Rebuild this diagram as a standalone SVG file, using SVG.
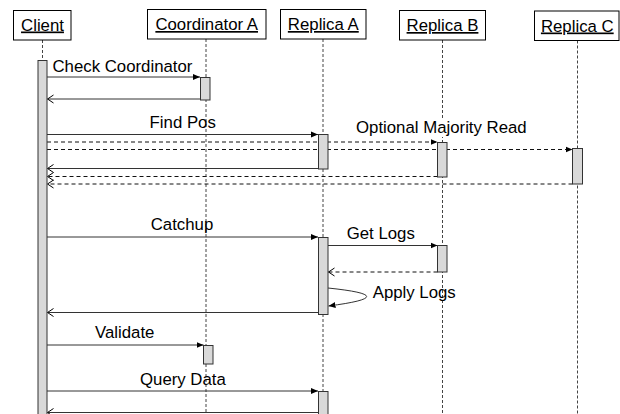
<svg xmlns="http://www.w3.org/2000/svg" width="620" height="414" viewBox="0 0 620 414">
<style>
text{font-family:"Liberation Sans",Arial,sans-serif;font-size:16.8px;fill:#000}
.hd{fill:#fff;stroke:#000;stroke-width:1}
.ht{text-anchor:middle;text-decoration:underline}
.life{stroke:#444;stroke-width:1;stroke-dasharray:3,2;fill:none}
.bar{fill:#d9d9d9;stroke:#333;stroke-width:1}
.msg{stroke:#333;stroke-width:1;fill:none}
.dash{stroke:#111;stroke-width:1;stroke-dasharray:4,3;fill:none}
.sync{marker-end:url(#fillArrow)}
.ret{marker-end:url(#openArrow)}
</style>
<defs>
<marker id="fillArrow" markerUnits="userSpaceOnUse" markerWidth="8" markerHeight="8" refX="7" refY="4" orient="auto">
<path d="M0,1 L7,4 L0,7 z" fill="#000"/>
</marker>
<marker id="openArrow" markerUnits="userSpaceOnUse" markerWidth="8" markerHeight="10" refX="6" refY="5" orient="auto">
<path d="M0,1 L6,5 L0,9" fill="none" stroke="#000" stroke-width="1"/>
</marker>
</defs>
<rect width="620" height="414" fill="#fff"/>
<g id="lifelines">
<line class="life" x1="42.5" y1="40" x2="42.5" y2="414"/>
<line class="life" x1="206" y1="39" x2="206" y2="414"/>
<line class="life" x1="323" y1="39" x2="323" y2="414"/>
<line class="life" x1="442.5" y1="40" x2="442.5" y2="414"/>
<line class="life" x1="577.5" y1="40.5" x2="577.5" y2="414"/>
</g>
<g id="connectors">
<line class="msg sync" x1="47" y1="77" x2="200" y2="77"/>
<line class="msg ret" x1="200" y1="99" x2="47.5" y2="99"/>
<line class="msg sync" x1="47" y1="134.5" x2="318" y2="134.5"/>
<line class="dash sync" x1="47" y1="142" x2="437.5" y2="142"/>
<line class="dash sync" x1="47" y1="149.5" x2="572.5" y2="149.5"/>
<line class="msg ret" x1="318" y1="168.5" x2="47.5" y2="168.5"/>
<line class="dash ret" x1="437.5" y1="176.5" x2="47.5" y2="176.5"/>
<line class="dash ret" x1="572.5" y1="184" x2="47.5" y2="184"/>
<line class="msg sync" x1="47" y1="237" x2="318" y2="237"/>
<line class="msg sync" x1="328" y1="245.5" x2="437.5" y2="245.5"/>
<line class="dash ret" x1="437.5" y1="272" x2="328.5" y2="272"/>
<path class="msg sync" d="M328,288 Q405,296 328.5,306"/>
<line class="msg ret" x1="318" y1="312.5" x2="47.5" y2="312.5"/>
<line class="msg sync" x1="47" y1="345" x2="203.5" y2="345"/>
<line class="msg sync" x1="47" y1="391" x2="318" y2="391"/>
<line class="msg ret" x1="318" y1="412.5" x2="47.5" y2="412.5"/>
<text x="52.5" y="72">Check Coordinator</text>
<text x="182.7" y="127.5" text-anchor="middle">Find Pos</text>
<rect x="355" y="119" width="173" height="18" fill="#fff"/>
<text x="356" y="132.5">Optional Majority Read</text>
<text x="182" y="230" text-anchor="middle">Catchup</text>
<text x="346.7" y="239">Get Logs</text>
<text x="372.7" y="298">Apply Logs</text>
<text x="95" y="338">Validate</text>
<text x="140" y="385">Query Data</text>
</g>
<g id="client">
<rect class="hd" x="13.5" y="10.5" width="57.5" height="29.5"/>
<text class="ht" x="42.5" y="30.5">Client</text>
<rect class="bar" x="38" y="60.5" width="9" height="360"/>
</g>
<g id="coordinator-a">
<rect class="hd" x="147.5" y="9.5" width="118.5" height="29.5"/>
<text class="ht" x="206.7" y="30">Coordinator A</text>
<rect class="bar" x="200.5" y="77.5" width="9.5" height="22.5"/>
<rect class="bar" x="203.5" y="345.5" width="9.5" height="18.5"/>
</g>
<g id="replica-a">
<rect class="hd" x="280.5" y="9.5" width="85.5" height="29.5"/>
<text class="ht" x="323.3" y="30">Replica A</text>
<rect class="bar" x="318.5" y="134.5" width="9.5" height="34.5"/>
<rect class="bar" x="318.5" y="237.5" width="9.5" height="77"/>
<rect class="bar" x="318.5" y="391.5" width="9.5" height="30"/>
</g>
<g id="replica-b">
<rect class="hd" x="399.5" y="10.5" width="86" height="29.5"/>
<text class="ht" x="442.5" y="31">Replica B</text>
<rect class="bar" x="437.5" y="142.5" width="9.5" height="34.5"/>
<rect class="bar" x="437.5" y="245.5" width="9.5" height="26.5"/>
</g>
<g id="replica-c">
<rect class="hd" x="534.5" y="11" width="84.5" height="29.5"/>
<text class="ht" x="577.3" y="31.5">Replica C</text>
<rect class="bar" x="572.5" y="148.5" width="10" height="35.5"/>
</g>
</svg>
